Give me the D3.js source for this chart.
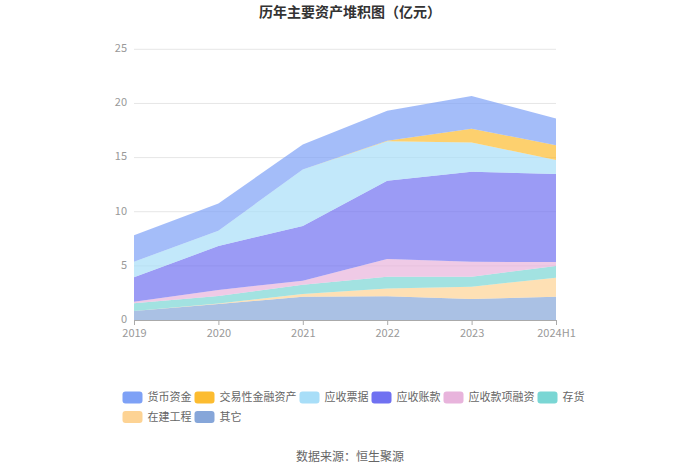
<!DOCTYPE html>
<html><head><meta charset="utf-8">
<script src="https://cdn.jsdelivr.net/npm/d3@7/dist/d3.min.js"></script>
<style>
html,body{margin:0;padding:0;background:#fff;}
svg{display:block;font-family:"Noto Sans CJK SC","Noto Sans",sans-serif;}
</style></head>
<body>
<svg id="chart" width="700" height="474"></svg>
<script>
const categories = ["2019","2020","2021","2022","2023","2024H1"];
const seriesNames = ["货币资金","交易性金融资产","应收票据","应收账款","应收款项融资","存货","在建工程","其它"];
const huobi     = [2.44, 2.52, 2.30, 2.78, 3.01, 2.47];
const jiaoyi    = [0, 0, 0, 0.05, 1.27, 1.38];
const piaoju    = [1.44, 1.42, 5.22, 3.64, 2.70, 1.29];
const zhangkuan = [2.25, 4.06, 5.05, 7.23, 8.32, 8.13];
const rongzi    = [0.15, 0.55, 0.37, 1.63, 1.38, 0.37];
const cunhuo    = [0.71, 0.69, 0.86, 1.10, 0.92, 1.08];
const zaijian   = [0, 0.05, 0.25, 0.70, 1.14, 1.75];
const qita      = [0.83, 1.48, 2.15, 2.20, 1.94, 2.15];
const yTicks = [0, 5, 10, 15, 20, 25];
const colors = ["#7ea1f6","#fcbc30","#a8def8","#7071f1","#e8b4dc","#7ad6d4","#fdd394","#86a6d9"];

const valuesByName = {
  "货币资金": huobi, "交易性金融资产": jiaoyi, "应收票据": piaoju, "应收账款": zhangkuan,
  "应收款项融资": rongzi, "存货": cunhuo, "在建工程": zaijian, "其它": qita
};
const color = d3.scaleOrdinal().domain(seriesNames).range(colors);

const svg = d3.select("#chart");
const x = d3.scalePoint().domain(categories).range([134, 556]);
const y = d3.scaleLinear().domain([0, 25]).range([320, 49.3]);

// title
svg.append("text").attr("x", 350).attr("y", 17).attr("text-anchor", "middle")
  .attr("font-size", 14).attr("font-weight", "bold").attr("fill", "#333")
  .text("历年主要资产堆积图（亿元）");

// grid
svg.append("g").selectAll("line").data(yTicks.filter(d => d > 0)).join("line")
  .attr("x1", 134).attr("x2", 556).attr("y1", d => y(d)).attr("y2", d => y(d))
  .attr("stroke", "#e6e6e6").attr("stroke-width", 1);

// y labels
svg.append("g").selectAll("text").data(yTicks).join("text")
  .attr("x", 127).attr("y", d => y(d) - 1).attr("dy", "0.35em").attr("text-anchor", "end")
  .attr("font-size", 11).attr("fill", "#999").text(d => d);

// stack
const table = categories.map((c, i) => {
  const row = { cat: c };
  seriesNames.forEach(n => row[n] = valuesByName[n][i]);
  return row;
});
const stackOrder = seriesNames.slice().reverse(); // 其它 at bottom
const stacked = d3.stack().keys(stackOrder)(table);
const area = d3.area().x(d => x(d.data.cat)).y0(d => y(d[0])).y1(d => y(d[1]));

svg.append("g").selectAll("path").data(stacked).join("path")
  .attr("d", area).attr("fill", d => color(d.key)).attr("fill-opacity", 0.7);

// x axis
const xAxis = d3.axisBottom(x).tickSize(5).tickPadding(4);
const gx = svg.append("g").attr("transform", "translate(0,320)").call(xAxis);
gx.select(".domain").attr("stroke", "#aaa");
gx.selectAll(".tick line").attr("stroke", "#aaa");
gx.selectAll(".tick text").attr("fill", "#999").attr("font-size", 11)
  .attr("font-family", '"Noto Sans CJK SC","Noto Sans",sans-serif');

// legend
const legendRows = [seriesNames.slice(0, 6), seriesNames.slice(6)];
const rowY = [397.5, 417];
legendRows.forEach((row, ri) => {
  let cx = 122.5;
  row.forEach(n => {
    const g = svg.append("g").attr("transform", `translate(${cx},${rowY[ri]})`);
    g.append("rect").attr("x", 0).attr("y", -6).attr("width", 20).attr("height", 12)
      .attr("rx", 3).attr("fill", color(n));
    const t = g.append("text").attr("x", 25).attr("y", 0).attr("dy", "0.35em")
      .attr("font-size", 11).attr("fill", "#666").text(n);
    const w = t.node().getComputedTextLength();
    cx += 25 + w + 3;
  });
});

// source
svg.append("text").attr("x", 350).attr("y", 461).attr("text-anchor", "middle")
  .attr("font-size", 12).attr("fill", "#666").text("数据来源：恒生聚源");
</script>
</body></html>
